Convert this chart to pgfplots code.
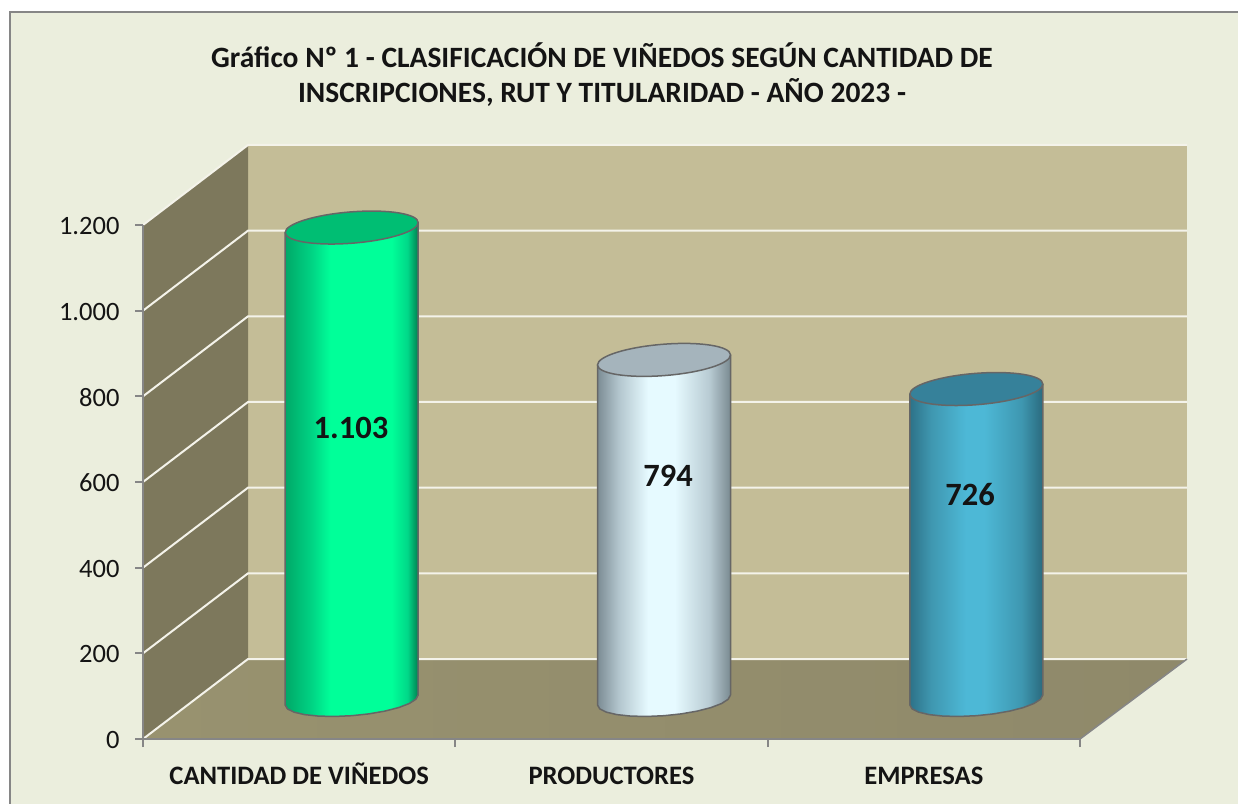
\documentclass[border=0pt]{standalone}
\usepackage{fontspec}
\setmainfont{Carlito}
\usepackage{pgfplots}
\usepackage{pgfplotstable}
\pgfplotsset{compat=1.18}
\definecolor{cBg}{HTML}{EBEEDD}
\definecolor{cFrame}{HTML}{868686}
\definecolor{cWall}{HTML}{C4BD97}
\definecolor{cSide}{HTML}{7D785C}
\definecolor{cFloorL}{HTML}{98926F}
\definecolor{cFloorR}{HTML}{8F896A}
\definecolor{cGrid}{HTML}{F4F3EA}
\definecolor{cCyl}{HTML}{666666}
\definecolor{cInk}{HTML}{141414}
% body shadings: the path box sits on the middle 25bp..75bp
\definecolor{a0}{HTML}{00A868}\definecolor{a1}{HTML}{00D484}\definecolor{a2}{HTML}{00FF99}\definecolor{a3}{HTML}{00D888}\definecolor{a4}{HTML}{007F50}
\definecolor{b0}{HTML}{7C8C94}\definecolor{b1}{HTML}{B3C6CE}\definecolor{b2}{HTML}{E6FAFF}\definecolor{b3}{HTML}{B8CBD3}\definecolor{b4}{HTML}{7A8A91}
\definecolor{c0}{HTML}{2D7288}\definecolor{c1}{HTML}{3F97B0}\definecolor{c2}{HTML}{4DB8D6}\definecolor{c3}{HTML}{3E97B0}\definecolor{c4}{HTML}{2A6A7E}
\pgfdeclarehorizontalshading{cylA}{100bp}{color(0bp)=(a0);color(25bp)=(a0);color(35bp)=(a1);color(42bp)=(a2);color(65bp)=(a2);color(71bp)=(a3);color(75bp)=(a4);color(100bp)=(a4)}
\pgfdeclarehorizontalshading{cylB}{100bp}{color(0bp)=(b0);color(25bp)=(b0);color(33bp)=(b1);color(44bp)=(b2);color(54bp)=(b2);color(67bp)=(b3);color(75bp)=(b4);color(100bp)=(b4)}
\pgfdeclarehorizontalshading{cylC}{100bp}{color(0bp)=(c0);color(25bp)=(c0);color(33bp)=(c1);color(46bp)=(c2);color(53bp)=(c2);color(67bp)=(c3);color(75bp)=(c4);color(100bp)=(c4)}
% tilted top cap of the cylinders
\newcommand{\cyltop}[2]{%
  \pgfdeclareplotmark{cyltop#1}{\path[fill=#2,draw=cCyl,line width=1.5pt] \pgfextra{\pgfpathellipse{\pgfpointorigin}{\pgfpoint{66.5pt}{5pt}}{\pgfpoint{0pt}{15.7pt}}};}%
}
\definecolor{tA}{HTML}{00BE73}\definecolor{tB}{HTML}{A5B4BC}\definecolor{tC}{HTML}{36819A}
\cyltop{A}{tA}\cyltop{B}{tB}\cyltop{C}{tC}
% outline of a cylinder body around its centre; top=1 rows get the value added
\pgfplotstableread{
dx dy top
-0.2129 -11.67 1
-0.2129 -11.67 0
-0.2056 -20.76 0
-0.1844 -28.44 0
-0.1505 -34.17 0
-0.1065 -37.59 0
-0.0551 -38.43 0
0 -36.66 0
0.0551 -32.39 0
0.1065 -25.91 0
0.1505 -17.67 0
0.1844 -8.22 0
0.2056 1.78 0
0.2129 11.67 0
0.2129 11.67 1
}\bodyshape
\begin{document}
\begin{tikzpicture}
\useasboundingbox (0,0) rectangle (1238pt,803pt);
\fill[white] (0,0) rectangle (1238pt,803pt);
% chart area and the 3-d box, in reference pixels
\begin{scope}[x=1pt,y=-1pt,yshift=803pt]
  \path[fill=cBg,draw=cFrame,line width=2.5pt] (10,12) rectangle (1245,810);
  \fill[cWall] (248,145) rectangle (1187,659);
  \fill[cSide] (143,225) -- (248,145) -- (248,659) -- (143,739) -- cycle;
  \path[shade,left color=cFloorL,right color=cFloorR] (143,739) -- (248,659) -- (1187,659) -- (1080,739) -- cycle;
  \foreach \yy in {225,310.67,396.33,482,567.67,653.33,739}
    \draw[cGrid,line width=2pt] (143,\yy) -- (248,\yy-80) -- (1187,\yy-80);
  \draw[cFrame,line width=1.5pt] (1080,739) -- (1187,659);
  \node[font=\fontsize{29.5}{35}\selectfont\bfseries,text=cInk,align=center,anchor=center] at (602,74.5)
    {Gráfico Nº 1 - CLASIFICACIÓN DE VIÑEDOS SEGÚN CANTIDAD DE\\INSCRIPCIONES, RUT Y TITULARIDAD - AÑO 2023 -};
\end{scope}
\begin{axis}[
  at={(143pt,64pt)},anchor=south west,
  scale only axis,width=937pt,height=514pt,
  xmin=0,xmax=3,ymin=0,ymax=1200,clip=false,
  axis x line*=bottom,axis y line*=left,
  axis line style={draw=cFrame,line width=2pt},
  tick style={draw=cFrame,line width=2pt},
  tick align=outside,major tick length=8pt,
  xtick={0,1,2,3},x tick label as interval,
  xticklabels={CANTIDAD DE VIÑEDOS,PRODUCTORES,EMPRESAS},
  x tick label style={font=\fontsize{26.6}{30}\selectfont\bfseries,text=cInk,
    anchor=north,text height=18pt,text depth=0pt,yshift=-16pt},
  ytick={0,200,...,1200},
  y tick label style={font=\fontsize{26.5}{30}\selectfont,text=cInk,xshift=-12pt,yshift=-1pt},
  /pgf/number format/assume math mode=true,
  /pgf/number format/1000 sep={.},
  cyl/.style={xshift=52.5pt,yshift=39pt},
  body/.style={cyl,shade,shading=#1,draw=cCyl,line width=1.5pt,line join=round},
]
% cylinders sit half way into the depth of the box
\addplot[body=cylA] table[x expr=\thisrow{dx}+0.5,y expr=\thisrow{dy}+1103*\thisrow{top}] {\bodyshape};
\addplot[cyl,only marks,mark=cyltopA] coordinates {(0.5,1103)};
\addplot[body=cylB] table[x expr=\thisrow{dx}+1.5,y expr=\thisrow{dy}+794*\thisrow{top}] {\bodyshape};
\addplot[cyl,only marks,mark=cyltopB] coordinates {(1.5,794)};
\addplot[body=cylC] table[x expr=\thisrow{dx}+2.5,y expr=\thisrow{dy}+726*\thisrow{top}] {\bodyshape};
\addplot[cyl,only marks,mark=cyltopC] coordinates {(2.5,726)};
% value labels, placed as in the reference (x,y) [value]
\addplot[draw=none,mark=none,point meta=explicit,
  nodes near coords={\pgfmathprintnumber[assume math mode=true,1000 sep={.}]{\pgfplotspointmeta}},
  every node near coord/.style={anchor=center,inner sep=0pt,text=cInk,font=\fontsize{32.5}{36}\selectfont\bfseries}]
  coordinates {(0.666,726) [1103] (1.681,614) [794] (2.648,570) [726]};
\end{axis}
\end{tikzpicture}
\end{document}
